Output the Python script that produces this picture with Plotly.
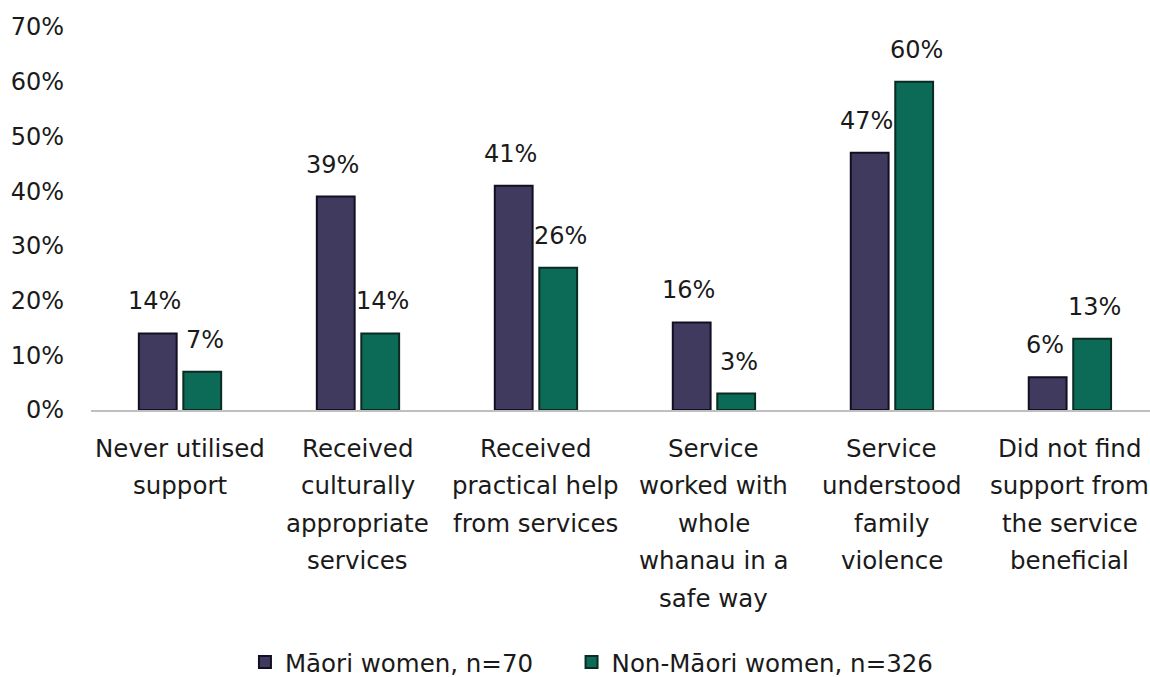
import plotly.graph_objects as go

# Survey results: share of women reporting each support experience
categories = [
    "Never utilised support",
    "Received culturally appropriate services",
    "Received practical help from services",
    "Service worked with whole whanau in a safe way",
    "Service understood family violence",
    "Did not find support from the service beneficial",
]
# Wrapped category captions (one entry per category, lines in order)
category_lines = [
    ["Never utilised", "support"],
    ["Received", "culturally", "appropriate", "services"],
    ["Received", "practical help", "from services"],
    ["Service", "worked with", "whole", "whanau in a", "safe way"],
    ["Service", "understood", "family", "violence"],
    ["Did not find", "support from", "the service", "beneficial"],
]
maori_values = [14, 39, 41, 16, 47, 6]
non_maori_values = [7, 14, 26, 3, 60, 13]
series_names = ["Māori women, n=70", "Non-Māori women, n=326"]
y_ticks = [0, 10, 20, 30, 40, 50, 60, 70]

FONT = "DejaVu Sans"
TEXT_COLOR = "#1a1a1a"
MAORI_COLOR = "#403A5E"
NON_MAORI_COLOR = "#0B6B56"

fig = go.Figure()
fig.add_trace(go.Bar(
    x=categories, y=maori_values, name=series_names[0], legend="legend",
    marker=dict(color=MAORI_COLOR, line=dict(color="#120f22", width=2)),
))
fig.add_trace(go.Bar(
    x=categories, y=non_maori_values, name=series_names[1], legend="legend2",
    marker=dict(color=NON_MAORI_COLOR, line=dict(color="#0b2a22", width=2)),
))

annotations = []
# Value labels above each bar
for values, shift in ((maori_values, -25), (non_maori_values, 25)):
    for cat, v in zip(categories, values):
        annotations.append(dict(
            x=cat, y=v, xref="x", yref="y", text=f"{v}%", showarrow=False,
            xshift=shift, yshift=32, yanchor="middle",
            font=dict(family=FONT, size=24, color=TEXT_COLOR),
        ))
# Category captions below the axis with generous line spacing
LINE_GAP = 37.5
for cat, lines in zip(categories, category_lines):
    for i, line in enumerate(lines):
        annotations.append(dict(
            x=cat, y=0, xref="x", yref="y", text=line, showarrow=False,
            yshift=-(38 + i * LINE_GAP), yanchor="middle",
            font=dict(family=FONT, size=24.5, color=TEXT_COLOR),
        ))

legend_style = dict(
    orientation="h", xref="container", yref="container",
    y=0.022, xanchor="left", yanchor="middle",
    font=dict(family=FONT, size=24.5, color=TEXT_COLOR),
    itemwidth=30,
)

fig.update_layout(
    barmode="group",
    bargap=0.5,
    bargroupgap=0.15,
    plot_bgcolor="white",
    paper_bgcolor="white",
    margin=dict(l=91, r=0, t=27, b=267),
    font=dict(family=FONT, size=24, color=TEXT_COLOR),
    showlegend=True,
    legend=dict(x=0.213, **legend_style),
    legend2=dict(x=0.497, **legend_style),
    annotations=annotations,
    xaxis=dict(
        showticklabels=False, showgrid=False, zeroline=False,
        showline=True, linecolor="#BFBFBF", linewidth=2,
        range=[-0.5, 5.45],
    ),
    yaxis=dict(
        range=[0, 70], tickvals=y_ticks, ticktext=[f"{t}%" for t in y_ticks],
        showgrid=False, zeroline=False, showline=False,
        ticklabelstandoff=26, tickfont=dict(family=FONT, size=24, color=TEXT_COLOR),
    ),
)

fig.write_html("out.html")
